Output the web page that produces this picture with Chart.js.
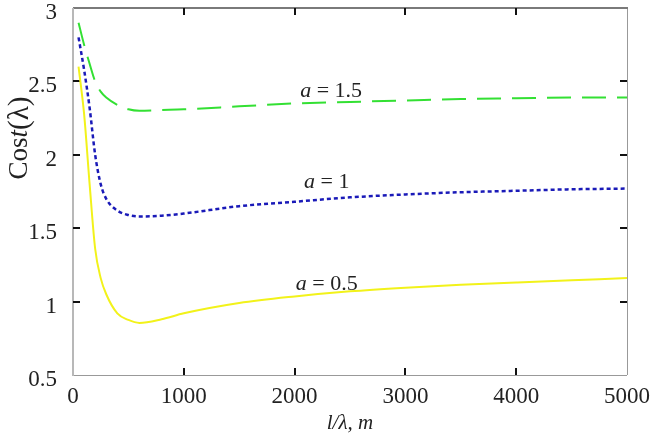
<!DOCTYPE html>
<html>
<head>
<meta charset="utf-8">
<script src="https://cdn.jsdelivr.net/npm/chart.js@4.4.0/dist/chart.umd.min.js"></script>
<style>
    html, body { margin: 0; padding: 0; background: #fff; }
    #wrap { width: 653px; height: 438px; }
</style>
</head>
<body>
<div id="wrap"><canvas id="costChart" width="653" height="438"></canvas></div>
<script>
// Данные графика: длина l/λ, м и стоимость для трёх значений a
var lengths = [50, 100, 150, 200, 250, 300, 400, 500, 600, 800, 1000, 1500, 2000, 2500, 3000, 3500, 4000, 4500, 5000];
var costA15 = [2.90, 2.75, 2.62, 2.50, 2.43, 2.39, 2.34, 2.31, 2.30, 2.305, 2.31, 2.33, 2.35, 2.36, 2.37, 2.38, 2.385, 2.39, 2.39];
var costA1 = [2.80, 2.58, 2.32, 2.00, 1.80, 1.70, 1.62, 1.59, 1.58, 1.585, 1.60, 1.65, 1.68, 1.71, 1.73, 1.745, 1.755, 1.765, 1.77];
var costA05 = [2.60, 2.28, 1.80, 1.36, 1.16, 1.05, 0.92, 0.875, 0.855, 0.88, 0.92, 0.99, 1.035, 1.07, 1.095, 1.115, 1.13, 1.145, 1.16];

var xTicks = [0, 1000, 2000, 3000, 4000, 5000];
var yTicks = [0.5, 1, 1.5, 2, 2.5, 3];

// Подписи кривых
var labelValues = ['1.5', '1', '0.5'];
var labelX = [2330, 2290, 2290];
var labelY = [2.43, 1.81, 1.12];

var serif = '"Liberation Serif", "DejaVu Serif", serif';

function toPoints(ys) {
    return lengths.map(function(x, i) { return { x: x, y: ys[i] }; });
}

// Рамка, внутренние засечки, подписи кривых и заголовок оси Y
var framePlugin = {
    id: 'frame',
    beforeDatasetsDraw: function(chart) {
        var c = chart.ctx, a = chart.chartArea;
        var xs = chart.scales.x, ys = chart.scales.y;
        c.save();
        c.lineWidth = 1;
        c.strokeStyle = '#999';
        c.beginPath();
        c.moveTo(a.left, a.bottom + 0.5); c.lineTo(a.right, a.bottom + 0.5);
        c.moveTo(a.right + 0.5, a.top); c.lineTo(a.right + 0.5, a.bottom);
        c.stroke();
        c.lineWidth = 2;
        c.strokeStyle = '#7a7a7a';
        c.beginPath();
        c.moveTo(a.left, a.top); c.lineTo(a.right + 1, a.top);
        c.stroke();
        c.strokeStyle = '#b8b8b8';
        c.beginPath();
        c.moveTo(a.left, a.top); c.lineTo(a.left, a.bottom + 1);
        c.stroke();

        c.strokeStyle = '#111';
        c.lineWidth = 2;
        c.beginPath();
        yTicks.slice(1, -1).forEach(function(v) {
            var py = Math.round(ys.getPixelForValue(v));
            c.moveTo(a.left, py); c.lineTo(a.left + 7, py);
            c.moveTo(a.right - 7, py); c.lineTo(a.right, py);
        });
        xTicks.slice(1, -1).forEach(function(v) {
            var px = Math.round(xs.getPixelForValue(v));
            c.moveTo(px, a.bottom); c.lineTo(px, a.bottom - 7);
            c.moveTo(px, a.top); c.lineTo(px, a.top + 7);
        });
        c.stroke();
        c.restore();
    },
    afterDatasetsDraw: function(chart) {
        var c = chart.ctx;
        var xs = chart.scales.x, ys = chart.scales.y;
        c.save();
        c.fillStyle = '#222';
        c.textBaseline = 'middle';
        labelValues.forEach(function(val, i) {
            var px = xs.getPixelForValue(labelX[i]);
            var py = ys.getPixelForValue(labelY[i]);
            c.font = 'italic 22px ' + serif;
            var w1 = c.measureText('a').width;
            c.font = '22px ' + serif;
            var rest = ' = ' + val;
            var w2 = c.measureText(rest).width;
            var x0 = px - (w1 + w2) / 2;
            c.font = 'italic 22px ' + serif;
            c.fillText('a', x0, py);
            c.font = '22px ' + serif;
            c.fillText(rest, x0 + w1, py);
        });

        // Cost(λ)
        c.translate(20, 138);
        c.rotate(-Math.PI / 2);
        var parts = [['Cos', '27px '], ['t', 'italic 27px '], ['(λ)', '29px ']];
        var total = 0;
        parts.forEach(function(p) { c.font = p[1] + serif; total += c.measureText(p[0]).width; });
        var x = -total / 2;
        parts.forEach(function(p) {
            c.font = p[1] + serif;
            c.fillText(p[0], x, 0);
            x += c.measureText(p[0]).width;
        });
        c.restore();
    }
};

var ctx = document.getElementById('costChart').getContext('2d');
var costChart = new Chart(ctx, {
    type: 'line',
    data: {
        datasets: [{
            label: 'a = 1.5',
            data: toPoints(costA15),
            borderColor: '#33e033',
            borderWidth: 2,
            borderDash: [24, 11],
        }, {
            label: 'a = 1',
            data: toPoints(costA1),
            borderColor: '#1a1ab8',
            borderWidth: 2.5,
            borderDash: [4, 3],
        }, {
            label: 'a = 0.5',
            data: toPoints(costA05),
            borderColor: '#f2f21a',
            borderWidth: 2,
        }]
    },
    options: {
        responsive: false,
        animation: false,
        layout: {
            padding: { top: 8, right: 26, left: 0, bottom: 0 }
        },
        elements: {
            point: { radius: 0 },
            line: { cubicInterpolationMode: 'monotone', fill: false }
        },
        plugins: {
            legend: { display: false },
            tooltip: { enabled: false }
        },
        scales: {
            x: {
                type: 'linear',
                min: 0,
                max: 5000,
                afterBuildTicks: function(scale) {
                    scale.ticks = xTicks.map(function(v) { return { value: v }; });
                },
                afterFit: function(scale) {
                    scale.height = 63;
                    scale.paddingLeft = 0;
                    scale.paddingRight = 0;
                },
                grid: { display: false },
                border: { display: false },
                ticks: {
                    color: '#222',
                    padding: 0,
                    maxRotation: 0,
                    callback: function(v) { return String(v); },
                    font: { family: serif, size: 23 }
                },
                title: {
                    display: true,
                    text: 'l/λ, m',
                    color: '#222',
                    padding: { top: 0, bottom: 2 },
                    font: { family: serif, size: 21, style: 'italic' }
                }
            },
            y: {
                min: 0.5,
                max: 3,
                afterBuildTicks: function(scale) {
                    scale.ticks = yTicks.map(function(v) { return { value: v }; });
                },
                afterFit: function(scale) {
                    scale.width = 73;
                    scale.paddingTop = 0;
                    scale.paddingBottom = 0;
                },
                grid: { display: false },
                border: { display: false },
                ticks: {
                    color: '#222',
                    padding: 8,
                    labelOffset: 5,
                    callback: function(v) { return String(v); },
                    font: { family: serif, size: 23 }
                }
            }
        }
    },
    plugins: [framePlugin]
});
</script>
</body>
</html>
